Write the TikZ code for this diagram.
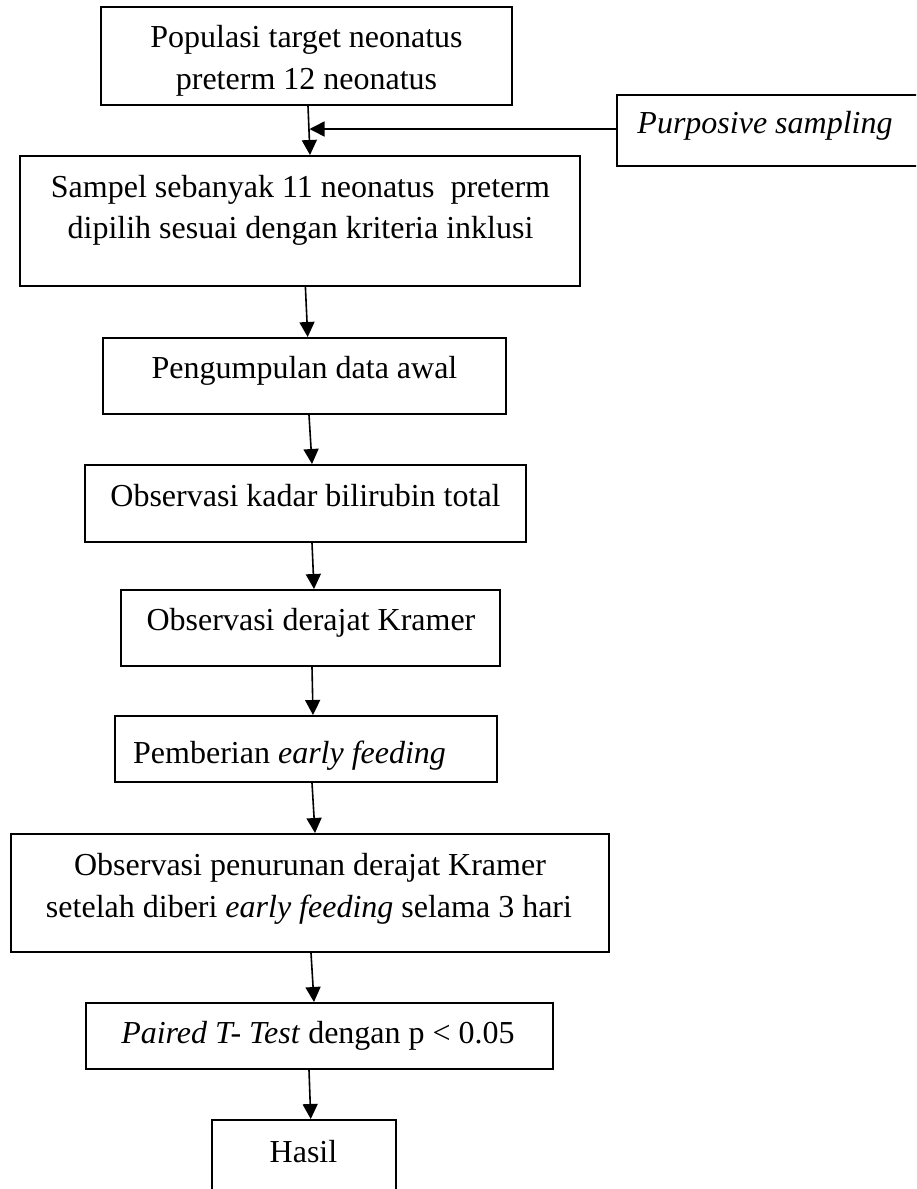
\documentclass[tikz,border=0pt]{standalone}
\usepackage{fontspec}
\setmainfont{Liberation Serif}
\usetikzlibrary{arrows.meta}
\begin{document}
\begin{tikzpicture}[x=1pt,y=-1pt,
  boxnode/.style={draw=black, line width=2pt, inner sep=0pt, minimum width=#1},
  txt/.style={inner sep=0pt, anchor=base, font=\fontsize{32}{42}\selectfont},
  conn/.style={line width=1.6pt, -{Triangle[length=15pt,width=15pt]}}]
\useasboundingbox (0,0) rectangle (916,1189);
\clip (0,0) rectangle (916,1189);
% boxes
\node[boxnode=411pt, minimum height=98pt] (b1) at (306.5,56) {};
\node[boxnode=305pt, minimum height=71pt] (pp) at (769.5,130.5) {};
\node[boxnode=560pt, minimum height=130pt] (b2) at (300,221) {};
\node[boxnode=403pt, minimum height=76pt] (b3) at (304.5,376) {};
\node[boxnode=441pt, minimum height=77pt] (b4) at (305.5,503.5) {};
\node[boxnode=379pt, minimum height=76pt] (b5) at (310.5,628) {};
\node[boxnode=382pt, minimum height=66pt] (b6) at (306,749) {};
\node[boxnode=598pt, minimum height=118pt] (b7) at (310,893) {};
\node[boxnode=467pt, minimum height=66pt] (b8) at (319,1036) {};
\node[boxnode=183.5pt, minimum height=80pt] (b9) at (303.75,1160) {};
% texts
\node[txt] (t1a) at (306.5,47) {Populasi target neonatus};
\node[txt] (t1b) at (306.5,89) {preterm 12 neonatus};
\node[txt] (tpp) at (765,133) {\itshape Purposive sampling};
\node[txt] (t2a) at (300.5,197) {Sampel sebanyak 11 neonatus\ \ preterm};
\node[txt] (t2b) at (300.5,238) {dipilih sesuai dengan kriteria inklusi};
\node[txt] (t3) at (304.5,378) {Pengumpulan data awal};
\node[txt] (t4) at (305.5,506) {Observasi kadar bilirubin total};
\node[txt] (t5) at (311,630) {Observasi derajat Kramer};
\node[txt, anchor=base west] (t6) at (133,763) {Pemberian \textit{early feeding}};
\node[txt] (t7a) at (310,875) {Observasi penurunan derajat Kramer};
\node[txt] (t7b) at (309,917) {setelah diberi \textit{early feeding} selama 3 hari};
\node[txt] (t8) at (318,1043) {\textit{Paired T- Test} dengan p < 0.05};
\node[txt] (t9) at (303.5,1162) {Hasil};
% connectors
\coordinate (m) at (309.5,129);
\draw[conn] ([xshift=1.5pt]b1.south) -- ([xshift=10pt]b2.north);
\draw[conn] ([yshift=1.5pt]pp.west) -- (m);
\draw[conn] ([xshift=5.4pt]b2.south) -- ([xshift=3.2pt]b3.north);
\draw[conn] ([xshift=4.5pt]b3.south) -- ([xshift=6.5pt]b4.north);
\draw[conn] ([xshift=6.5pt]b4.south) -- ([xshift=3.5pt]b5.north);
\draw[conn] ([xshift=1.5pt]b5.south) -- ([xshift=7pt]b6.north);
\draw[conn] ([xshift=6pt]b6.south) -- ([xshift=5pt]b7.north);
\draw[conn] ([xshift=1pt]b7.south) -- ([xshift=-5pt]b8.north);
\draw[conn] ([xshift=-10pt]b8.south) -- ([xshift=7pt]b9.north);
\end{tikzpicture}
\end{document}
